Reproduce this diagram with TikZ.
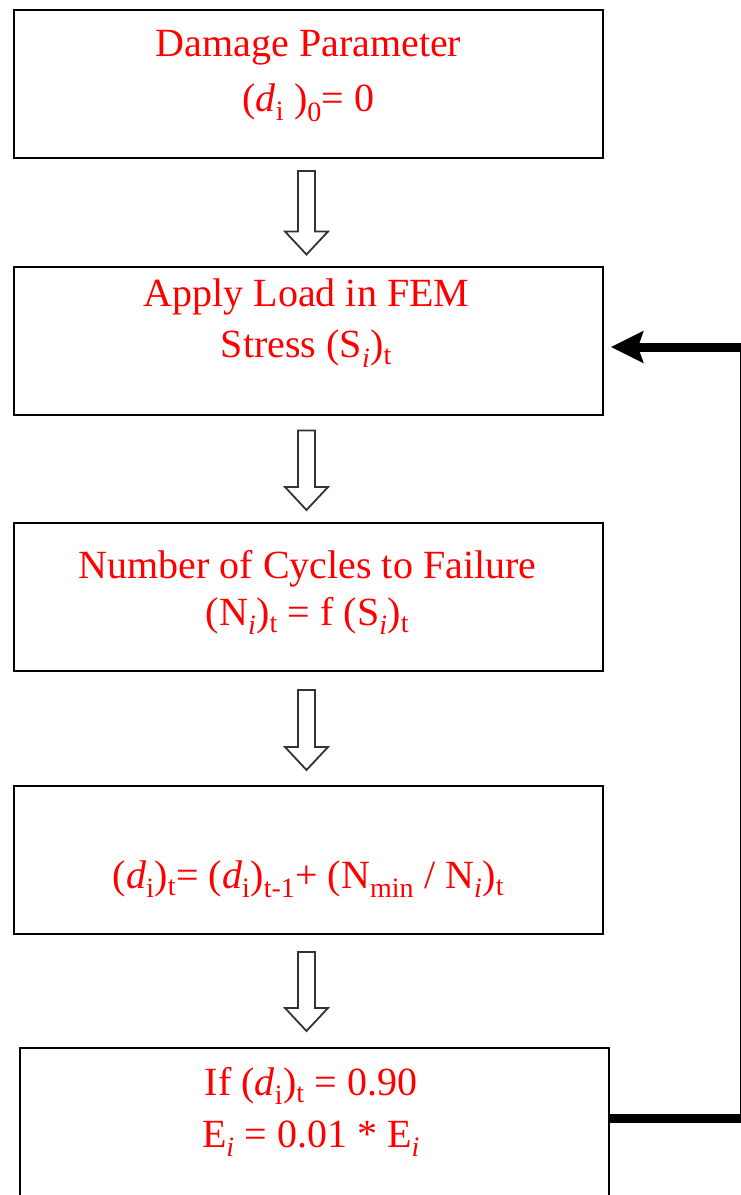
\documentclass[tikz,border=0pt]{standalone}
\usepackage{fontspec}
\setmainfont{Liberation Serif}
\usetikzlibrary{calc,arrows.meta}
\newcommand{\sbs}[1]{\textsubscript{#1}}
% hollow block arrow between two boxes: #1 upper box, #2 lower box, #3 top gap, #4 bottom gap
\newcommand{\blockarrow}[4]{%
  \coordinate (ta) at ($(#1.south)+(-2,#3)$);
  \coordinate (tb) at ($(ta |- #2.north)+(0,-#4)$);
  \draw[hollowarr] ($(ta)+(-8.5,0)$) -- ($(ta)+(8.5,0)$) -- ($(tb)+(8.5,-23)$)
    -- ($(tb)+(21.5,-23)$) -- (tb) -- ($(tb)+(-21.5,-23)$) -- ($(tb)+(-8.5,-23)$) -- cycle;}
\begin{document}
\begin{tikzpicture}[x=1pt,y=-1pt,
  box/.style={draw=black, line width=2pt, minimum width=589pt, minimum height=148pt, inner sep=0pt, fill=white},
  lbl/.style={text=red, font=\fontsize{40}{48}\selectfont, anchor=base, inner sep=0pt},
  hollowarr/.style={draw=black!80, line width=1.8pt, fill=white, line join=miter},
  feedback/.style={line width=9pt, line join=miter, -{Stealth[length=32pt,width=31pt,inset=5pt]}, shorten >=7pt}
]
\useasboundingbox (0,0) rectangle (741,1195);
% boxes
\node[box] (b1) at (308.5,84) {};
\node[box] (b2) at (308.5,340.5) {};
\node[box] (b3) at (308.5,597) {};
\node[box] (b4) at (308.5,860) {};
\node[box, minimum height=152pt] (b5) at (314,1124) {};
% texts
\node[lbl] (t1a) at ($(b1.north)+(0,47)$) {Damage Parameter};
\node[lbl] (t1b) at ($(b1.north)+(0,102)$) {(\textit{d}\sbs{i} )\sbs{0}= 0};
\node[lbl] (t2a) at ($(b2.north)+(-2,41)$) {Apply Load in FEM};
\node[lbl] (t2b) at ($(b2.north)+(-2,92)$) {Stress (S\sbs{\textit{i}})\sbs{t}};
\node[lbl] (t3a) at ($(b3.north)+(-1,56)$) {Number of Cycles to Failure};
\node[lbl] (t3b) at ($(b3.north)+(-1,103)$) {(N\sbs{\textit{i}})\sbs{t} = f (S\sbs{\textit{i}})\sbs{t}};
\node[lbl] (t4) at ($(b4.north)+(0,103)$) {(\textit{d}\sbs{i})\sbs{t}= (\textit{d}\sbs{i})\sbs{t-1}+ (N\sbs{min} / N\sbs{\textit{i}})\sbs{t}};
\node[lbl] (t5a) at ($(b5.north)+(-3,48)$) {If (\textit{d}\sbs{i})\sbs{t} = 0.90};
\node[lbl] (t5b) at ($(b5.north)+(-3,100)$) {E\sbs{\textit{i}} = 0.01 * E\sbs{\textit{i}}};
% hollow arrows
\blockarrow{b1}{b2}{12}{11}
\blockarrow{b2}{b3}{15}{12}
\blockarrow{b3}{b4}{18}{15}
\blockarrow{b4}{b5}{17}{16}
% feedback loop
\coordinate (s5) at ([yshift=6pt]b5.east);
\coordinate (e2) at ([yshift=-6.5pt]b2.east);
\coordinate (rc) at (744,0);
\draw[feedback] (s5) -- (s5 -| rc) -- (e2 -| rc) -- (e2);
\end{tikzpicture}
\end{document}
